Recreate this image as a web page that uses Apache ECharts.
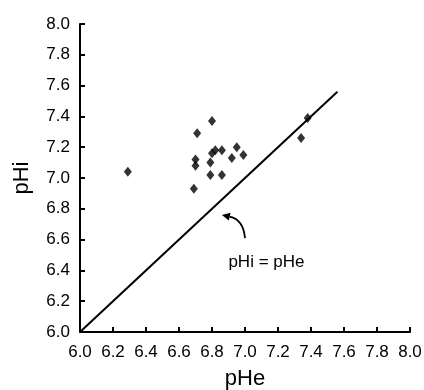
<!DOCTYPE html>
<html>
<head>
<meta charset="utf-8">
<script src="https://cdn.jsdelivr.net/npm/echarts@6/dist/echarts.min.js"></script>
<style>
  html, body { margin: 0; padding: 0; background: #fff; }
  #chart { width: 424px; height: 390px; }
</style>
</head>
<body>
<div id="chart"></div>
<script>
// measured points (pHe, pHi)
const pHe = [6.29, 6.69, 6.70, 6.70, 6.71, 6.79, 6.79, 6.80, 6.80, 6.82, 6.86, 6.86, 6.92, 6.95, 6.99, 7.34, 7.38];
const pHi = [7.04, 6.93, 7.08, 7.12, 7.29, 7.02, 7.10, 7.16, 7.37, 7.18, 7.18, 7.02, 7.13, 7.20, 7.15, 7.26, 7.39];
// identity line pHi = pHe
const lineX = [6.0, 7.56];
const ticks = ['6.0', '6.2', '6.4', '6.6', '6.8', '7.0', '7.2', '7.4', '7.6', '7.8', '8.0'];

const font = 'Liberation Sans, Arial, Helvetica, sans-serif';
const chart = echarts.init(document.getElementById('chart'));

const axisCommon = {
  type: 'value',
  min: 6.0,
  max: 8.0,
  interval: 0.2,
  nameLocation: 'middle',
  nameTextStyle: { fontFamily: font, fontSize: 22, color: '#000' },
  axisLine: { onZero: false, lineStyle: { color: '#000', width: 2 } },
  axisTick: { inside: true, length: 5, lineStyle: { color: '#000', width: 2 } },
  axisLabel: {
    fontFamily: font, fontSize: 17, color: '#000',
    formatter: v => ticks[Math.round((v - 6) / 0.2)]
  },
  splitLine: { show: false }
};

chart.setOption({
  animation: false,
  grid: { left: 80, right: 14, top: 24, bottom: 58, containLabel: false, outerBoundsMode: 'none' },
  xAxis: Object.assign({}, axisCommon, { name: 'pHe', nameGap: 36, axisLabel: Object.assign({}, axisCommon.axisLabel, { margin: 12 }) }),
  yAxis: Object.assign({}, axisCommon, { name: 'pHi', nameGap: 47, axisLabel: Object.assign({}, axisCommon.axisLabel, { margin: 10 }) }),
  series: [
    {
      type: 'line',
      data: lineX.map(v => [v, v]),
      symbol: 'none',
      lineStyle: { color: '#000', width: 2 },
      z: 2
    },
    {
      type: 'scatter',
      data: pHe.map((x, i) => [x, pHi[i]]),
      symbol: 'diamond',
      symbolSize: [8, 10],
      itemStyle: { color: '#000' },
      z: 3
    }
  ]
});

// annotation: label and curved arrow pointing at the line
const p = (x, y) => chart.convertToPixel({ gridIndex: 0 }, [x, y]);
const a0 = p(7.00, 6.61);   // tail
const a1 = p(6.86, 6.76);   // head
const c = p(6.99, 6.73);    // control
const ang = Math.atan2(a1[1] - c[1], a1[0] - c[0]);
const hl = 8, hw = 4;
const tip = a1;
const b = [tip[0] - hl * Math.cos(ang), tip[1] - hl * Math.sin(ang)];
const lab = p(7.13, 6.45);

chart.setOption({
  graphic: [
    {
      type: 'bezierCurve',
      shape: { x1: a0[0], y1: a0[1], x2: b[0], y2: b[1], cpx1: c[0], cpy1: c[1] },
      style: { stroke: '#000', lineWidth: 1.8, fill: null }
    },
    {
      type: 'polygon',
      shape: { points: [
        tip,
        [b[0] + hw * Math.sin(ang), b[1] - hw * Math.cos(ang)],
        [b[0] - hw * Math.sin(ang), b[1] + hw * Math.cos(ang)]
      ] },
      style: { fill: '#000' }
    },
    {
      type: 'text',
      x: lab[0], y: lab[1],
      style: { text: 'pHi = pHe', font: '17px ' + font, fill: '#000', align: 'center', verticalAlign: 'middle' }
    }
  ]
});
</script>
</body>
</html>
